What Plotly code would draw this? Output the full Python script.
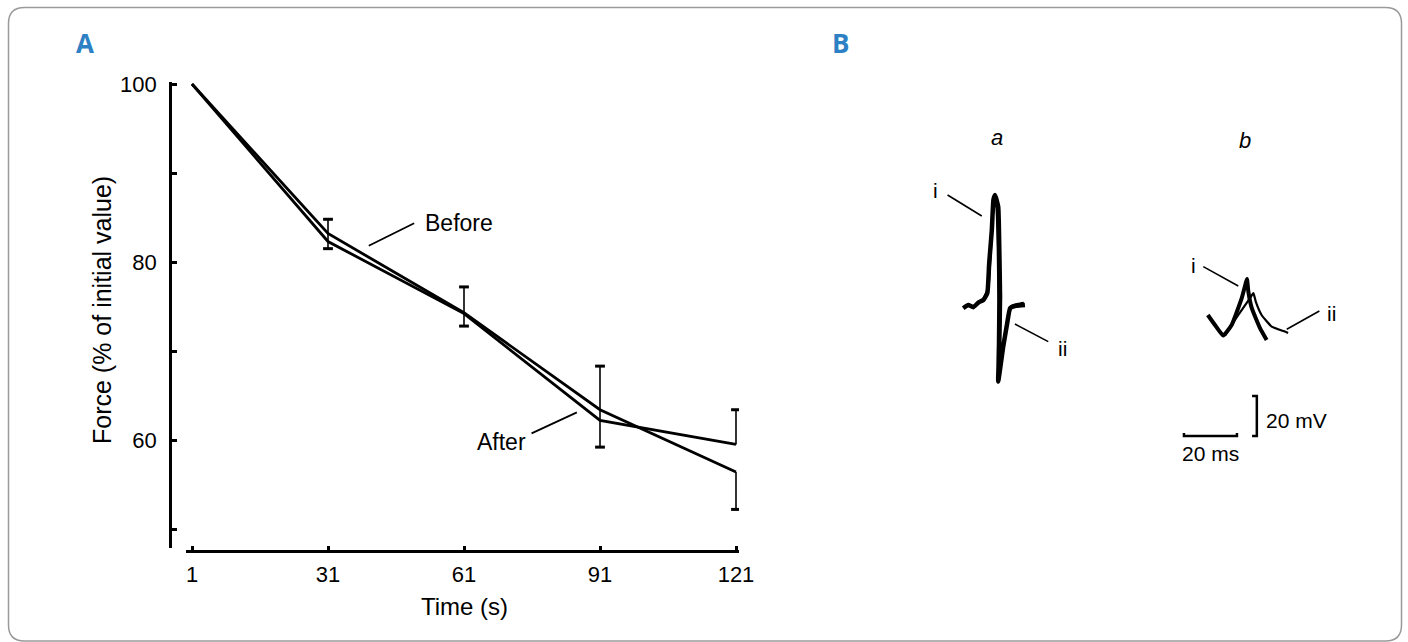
import plotly.graph_objects as go

W, H = 1408, 642

# ---------------- Panel A data ----------------
TIME_S = [1, 31, 61, 91, 121]
FORCE_BEFORE = [100, 83.2, 74.3, 63.4, 56.4]
FORCE_AFTER = [100, 82.3, 74.2, 62.2, 59.5]

# error bars (time, low, high, which ends carry a cap)
ERR_T = [31, 61, 91, 121, 121]
ERR_LO = [81.5, 72.8, 59.2, 59.5, 52.2]
ERR_HI = [84.8, 77.2, 68.3, 63.4, 56.4]
ERR_CAPS = ["both", "both", "both", "hi", "lo"]

X_TICKS = [1, 31, 61, 91, 121]
Y_TICKS = [50, 60, 70, 80, 90, 100]
Y_TICK_TEXT = ["", "60", "", "80", "", "100"]

# label leader lines (time, force)
BEFORE_LEADER = [(50.0, 84.35), (40.0, 81.83)]
AFTER_LEADER = [(75.9, 60.75), (85.9, 63.1)]
BEFORE_LABEL = (52.0, 84.4)
AFTER_LABEL = (63.4, 59.8)

# ---------------- Panel B data (ms, mV) ----------------
A_I_MS = [31.4, 33.3, 35.2, 37.1, 39.0, 40.5, 41.2, 42.2, 42.8, 43.4, 44.6, 45.0,
          45.3, 45.0, 44.6, 46.5, 48.0, 49.1, 50.9, 54.7]
A_I_MV = [85.9, 87.5, 86.4, 88.7, 90.0, 93.4, 108.4, 125.0, 140.0, 142.5, 136.7, 116.7,
          91.7, 66.7, 49.2, 66.7, 78.4, 85.9, 87.0, 87.5]
A_II_MS = [38.9, 40.8, 41.7, 42.6, 43.2, 44.0, 44.5, 44.7, 44.5, 44.7, 46.0, 47.5,
           48.7, 49.8, 52.1, 54.3]
A_II_MV = [90.0, 96.0, 112.5, 134.0, 140.0, 136.0, 115.0, 90.0, 65.0, 51.0, 64.0, 75.0,
           83.0, 87.0, 88.0, 88.5]
B_I_MS = [123.7, 126.4, 129.5, 132.7, 136.5, 138.0, 138.5, 139.0, 140.3, 143.4, 145.9]
B_I_MV = [82.5, 77.5, 72.2, 77.5, 90.9, 98.4, 100.5, 94.2, 85.9, 75.9, 70.0]
B_II_MS = [130.2, 135.2, 139.6, 140.9, 141.8, 144.0, 147.8, 152.8, 154.0]
B_II_MV = [72.2, 82.5, 90.9, 93.4, 89.2, 82.5, 76.7, 74.2, 73.5]

SCALE_MS = 20
SCALE_MV = 20
SCALE_BAR_ORIGIN = (114.7, 22.0)   # left end of time bar
SCALE_BRACKET_X = 142.2

# leader lines for i / ii in panel B
B_LEADERS = [[(25.5, 142.5), (38.4, 132.0)],
             [(50.9, 78.0), (63.5, 69.2)],
             [(122.0, 106.7), (135.2, 97.0)],
             [(153.5, 75.4), (165.8, 84.5)]]
B_LEADER_TEXT = [("i", 21.1, 145.0), ("ii", 68.9, 65.9), ("i", 118.2, 107.5), ("ii", 170.5, 83.4)]

FONT = "Liberation Sans, Arial, Helvetica, sans-serif"
BLUE = "#2C80C3"

fig = go.Figure()

# ---- Panel A traces ----
fig.add_trace(go.Scatter(x=TIME_S, y=FORCE_BEFORE, mode="lines",
                         line=dict(color="black", width=2.8), xaxis="x", yaxis="y",
                         showlegend=False, hoverinfo="skip"))
fig.add_trace(go.Scatter(x=TIME_S, y=FORCE_AFTER, mode="lines",
                         line=dict(color="black", width=2.8), xaxis="x", yaxis="y",
                         showlegend=False, hoverinfo="skip"))

ex, ey, cx, cy = [], [], [], []
for t, lo, hi, cap in zip(ERR_T, ERR_LO, ERR_HI, ERR_CAPS):
    ex += [t, t, None]
    ey += [lo, hi, None]
    if cap in ("both", "lo"):
        cx.append(t); cy.append(lo)
    if cap in ("both", "hi"):
        cx.append(t); cy.append(hi)
fig.add_trace(go.Scatter(x=ex, y=ey, mode="lines", line=dict(color="black", width=1.6),
                         xaxis="x", yaxis="y", showlegend=False, hoverinfo="skip"))
fig.add_trace(go.Scatter(x=cx, y=cy, mode="markers",
                         marker=dict(symbol="line-ew", size=7, line=dict(color="black", width=3)),
                         xaxis="x", yaxis="y", showlegend=False, hoverinfo="skip"))

# ---- Panel B traces ----
fig.add_trace(go.Scatter(x=A_I_MS, y=A_I_MV, mode="lines",
                         line=dict(color="black", width=4.5, shape="spline", smoothing=0.4),
                         xaxis="x2", yaxis="y2", showlegend=False, hoverinfo="skip"))
fig.add_trace(go.Scatter(x=A_II_MS, y=A_II_MV, mode="lines",
                         line=dict(color="black", width=2.5, shape="spline", smoothing=0.4),
                         xaxis="x2", yaxis="y2", showlegend=False, hoverinfo="skip"))
fig.add_trace(go.Scatter(x=B_I_MS, y=B_I_MV, mode="lines",
                         line=dict(color="black", width=4, shape="spline", smoothing=0.4),
                         xaxis="x2", yaxis="y2", showlegend=False, hoverinfo="skip"))
fig.add_trace(go.Scatter(x=B_II_MS, y=B_II_MV, mode="lines",
                         line=dict(color="black", width=2.2, shape="spline", smoothing=0.4),
                         xaxis="x2", yaxis="y2", showlegend=False, hoverinfo="skip"))

# scale bars
x0, y0 = SCALE_BAR_ORIGIN
fig.add_trace(go.Scatter(x=[x0, x0, x0 + SCALE_MS, x0 + SCALE_MS],
                         y=[y0 + 1.5, y0, y0, y0 + 1.5], mode="lines",
                         line=dict(color="black", width=2.5),
                         xaxis="x2", yaxis="y2", showlegend=False, hoverinfo="skip"))
bx = SCALE_BRACKET_X
fig.add_trace(go.Scatter(x=[bx - 1.8, bx, bx, bx - 1.8],
                         y=[y0 + SCALE_MV, y0 + SCALE_MV, y0, y0], mode="lines",
                         line=dict(color="black", width=2.5),
                         xaxis="x2", yaxis="y2", showlegend=False, hoverinfo="skip"))

shapes = []
for (p0, p1) in [BEFORE_LEADER, AFTER_LEADER]:
    shapes.append(dict(type="line", xref="x", yref="y", x0=p0[0], y0=p0[1], x1=p1[0], y1=p1[1],
                       line=dict(color="black", width=1.8)))
for (p0, p1) in B_LEADERS:
    shapes.append(dict(type="line", xref="x2", yref="y2", x0=p0[0], y0=p0[1], x1=p1[0], y1=p1[1],
                       line=dict(color="black", width=1.6)))

# rounded frame
L, T, R, B, rad = 8.5, 7.5, 1401.5, 641.0, 16


def px(x):
    return x / W


def py(y):
    return 1 - y / H


path = (f"M {px(L+rad)} {py(T)} L {px(R-rad)} {py(T)} Q {px(R)} {py(T)} {px(R)} {py(T+rad)} "
        f"L {px(R)} {py(B-rad)} Q {px(R)} {py(B)} {px(R-rad)} {py(B)} "
        f"L {px(L+rad)} {py(B)} Q {px(L)} {py(B)} {px(L)} {py(B-rad)} "
        f"L {px(L)} {py(T+rad)} Q {px(L)} {py(T)} {px(L+rad)} {py(T)} Z")
shapes.append(dict(type="path", xref="paper", yref="paper", path=path,
                   line=dict(color="#9a9a9a", width=1.5)))


def ann(text, x, y, xref="paper", yref="paper", size=22, xanchor="center", family=FONT,
        color="black", **kw):
    return dict(text=text, x=x, y=y, xref=xref, yref=yref, showarrow=False,
                xanchor=xanchor, yanchor="middle",
                font=dict(family=family, size=size, color=color), **kw)


annotations = [
    ann("<b>A</b>", px(85), py(43), size=26, family="Open Sans, sans-serif", color=BLUE),
    ann("<b>B</b>", px(840), py(43), size=26, family="Open Sans, sans-serif", color=BLUE),
    ann("Force (% of initial value)", px(102), py(310), size=25, textangle=-90),
    ann("Time (s)", px(464), py(606), size=24),
    ann("Before", BEFORE_LABEL[0], BEFORE_LABEL[1], "x", "y", size=23, xanchor="left"),
    ann("After", AFTER_LABEL[0], AFTER_LABEL[1], "x", "y", size=23, xanchor="left"),
    ann("<i>a</i>", 44.2, 171.5, "x2", "y2", size=22),
    ann("<i>b</i>", 137.7, 170.0, "x2", "y2", size=22),
    ann("20 mV", 144.9, 30.0, "x2", "y2", size=21, xanchor="left"),
    ann("20 ms", 124.9, 13.5, "x2", "y2", size=21),
]
for txt, xx, yy in B_LEADER_TEXT:
    annotations.append(ann(txt, xx, yy, "x2", "y2", size=21))

# axis geometry (pixels)
XA_L, XA_R, XA_Y = 186, 739, 551
X1_PX, X121_PX = 192, 736
YA_X, YA_T, YA_B = 170, 82, 548
Y100_PX, Y60_PX = 84, 440
xs = (X121_PX - X1_PX) / 120.0
ys = (Y60_PX - Y100_PX) / 40.0

fig.update_layout(
    width=W, height=H, margin=dict(l=0, r=0, t=0, b=0, pad=0, autoexpand=False),
    paper_bgcolor="white", plot_bgcolor="white",
    showlegend=False,
    font=dict(family=FONT, color="black"),
    xaxis=dict(domain=[px(XA_L), px(XA_R)],
               range=[1 - (X1_PX - XA_L) / xs, 121 + (XA_R - X121_PX) / xs],
               anchor="free", position=py(XA_Y), automargin=False,
               showline=True, linewidth=2.8, linecolor="black",
               ticks="inside", ticklen=4, tickwidth=3, tickcolor="black",
               tickvals=X_TICKS, ticktext=[str(v) for v in X_TICKS],
               tickfont=dict(family=FONT, size=22, color="black"), ticklabelstandoff=3,
               showgrid=False, zeroline=False, fixedrange=True),
    yaxis=dict(domain=[py(YA_B), py(YA_T)],
               range=[100 - (YA_B - Y100_PX) / ys, 100 + (Y100_PX - YA_T) / ys],
               anchor="free", position=px(YA_X), automargin=False,
               showline=True, linewidth=2.8, linecolor="black",
               ticks="inside", ticklen=5, tickwidth=2.5, tickcolor="black",
               tickvals=Y_TICKS, ticktext=Y_TICK_TEXT,
               tickfont=dict(family=FONT, size=22, color="black"), ticklabelstandoff=8,
               showgrid=False, zeroline=False, fixedrange=True),
    xaxis2=dict(domain=[px(880), px(1400)], range=[0, (1400 - 880) / 2.65],
                anchor="y2", visible=False, fixedrange=True, automargin=False),
    yaxis2=dict(domain=[py(480), py(120)], range=[0, (480 - 120) / 2.0],
                anchor="x2", visible=False, fixedrange=True, automargin=False),
    shapes=shapes,
    annotations=annotations,
)

fig.write_html("out.html", config={"displayModeBar": False},
               post_script="document.body.style.margin='0';document.body.style.overflow='hidden';")
